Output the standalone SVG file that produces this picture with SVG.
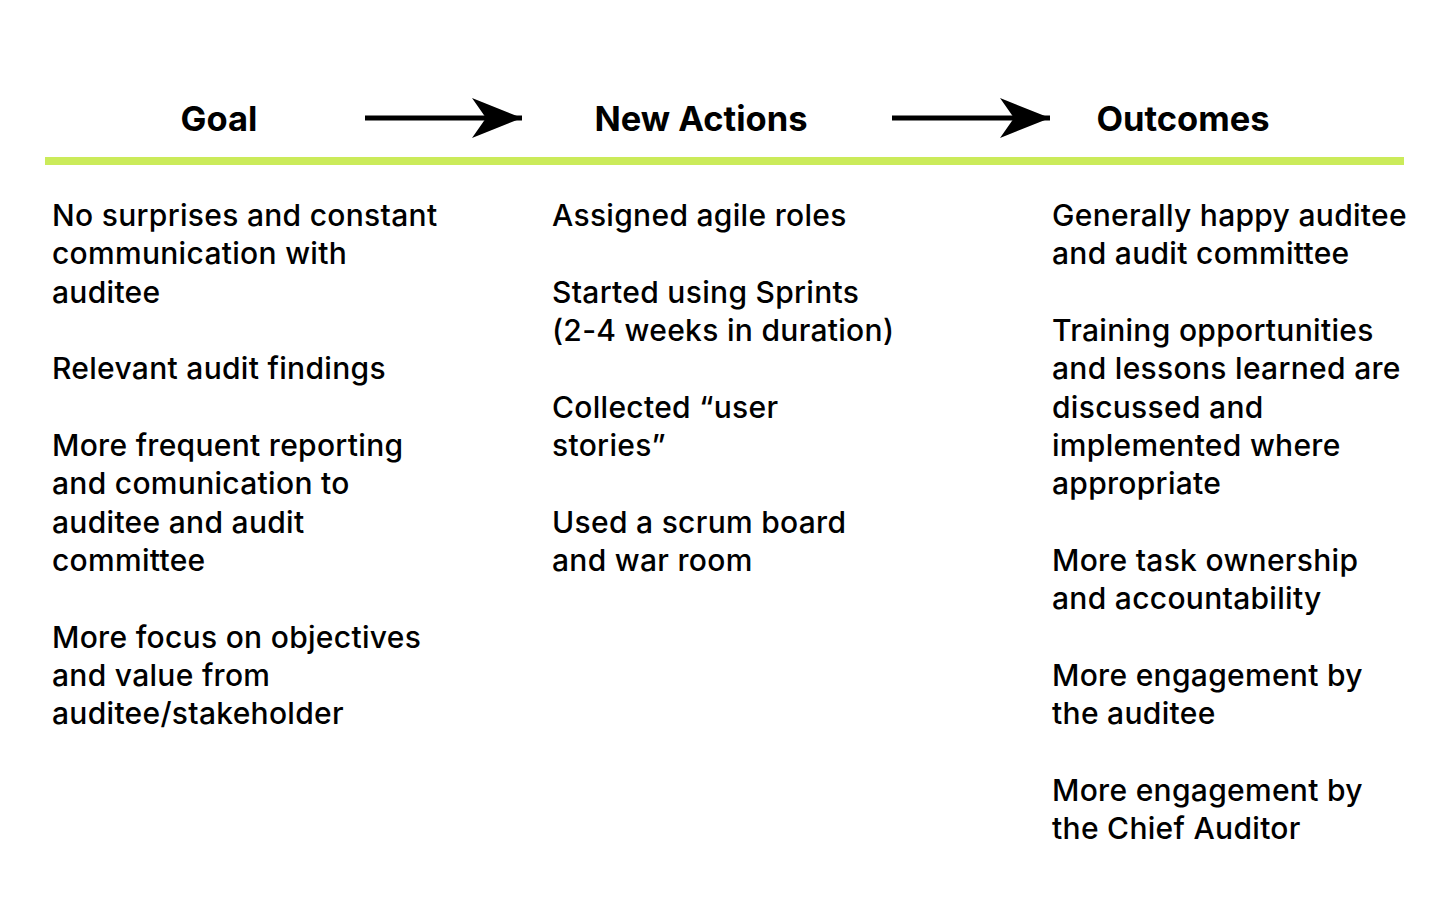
<svg xmlns="http://www.w3.org/2000/svg" width="1440" height="900" viewBox="0 0 1440 900">
<defs>
<style>
.h{font-family:Inter,"Liberation Sans",Arial,sans-serif;font-weight:bold;font-size:34.5px;fill:#000;text-anchor:middle}
.t{font-family:Inter,"Liberation Sans",Arial,sans-serif;font-weight:500;font-size:30px;letter-spacing:0.3px;fill:#000}
.ln{stroke:#000;stroke-width:5;fill:none}
</style>
<marker id="ah" viewBox="0 0 50 40" refX="50" refY="20" markerWidth="50" markerHeight="40" markerUnits="userSpaceOnUse" orient="auto">
<path d="M0,0 L50,20 L0,40 L14,20 Z" fill="#000"/>
</marker>
</defs>
<rect width="1440" height="900" fill="#fff"/>
<g id="connectors">
<line class="ln" x1="365" y1="118" x2="522" y2="118" marker-end="url(#ah)"/>
<line class="ln" x1="892" y1="118" x2="1050" y2="118" marker-end="url(#ah)"/>
</g>
<rect id="divider" x="45" y="157" width="1359" height="8" fill="#cbeb5a"/>
<g id="goal">
<text class="h" x="219" y="131">Goal</text>
<text class="t" x="52" y="226">No surprises and constant</text>
<text class="t" x="52" y="264.3">communication with</text>
<text class="t" x="52" y="302.7">auditee</text>
<text class="t" x="52" y="379.3">Relevant audit findings</text>
<text class="t" x="52" y="456">More frequent reporting</text>
<text class="t" x="52" y="494.3">and comunication to</text>
<text class="t" x="52" y="532.7">auditee and audit</text>
<text class="t" x="52" y="571">committee</text>
<text class="t" x="52" y="647.7">More focus on objectives</text>
<text class="t" x="52" y="686">and value from</text>
<text class="t" x="52" y="724.3">auditee/stakeholder</text>
</g>
<g id="new-actions">
<text class="h" x="701" y="131">New Actions</text>
<text class="t" x="552" y="226">Assigned agile roles</text>
<text class="t" x="552" y="302.7">Started using Sprints</text>
<text class="t" x="552" y="341">(2-4 weeks in duration)</text>
<text class="t" x="552" y="417.7">Collected “user</text>
<text class="t" x="552" y="456">stories”</text>
<text class="t" x="552" y="532.7">Used a scrum board</text>
<text class="t" x="552" y="571">and war room</text>
</g>
<g id="outcomes">
<text class="h" x="1183" y="131">Outcomes</text>
<text class="t" x="1052" y="226">Generally happy auditee</text>
<text class="t" x="1052" y="264.3">and audit committee</text>
<text class="t" x="1052" y="341">Training opportunities</text>
<text class="t" x="1052" y="379.3">and lessons learned are</text>
<text class="t" x="1052" y="417.7">discussed and</text>
<text class="t" x="1052" y="456">implemented where</text>
<text class="t" x="1052" y="494.3">appropriate</text>
<text class="t" x="1052" y="571">More task ownership</text>
<text class="t" x="1052" y="609.3">and accountability</text>
<text class="t" x="1052" y="686">More engagement by</text>
<text class="t" x="1052" y="724.3">the auditee</text>
<text class="t" x="1052" y="801">More engagement by</text>
<text class="t" x="1052" y="839.3">the Chief Auditor</text>
</g>
</svg>
